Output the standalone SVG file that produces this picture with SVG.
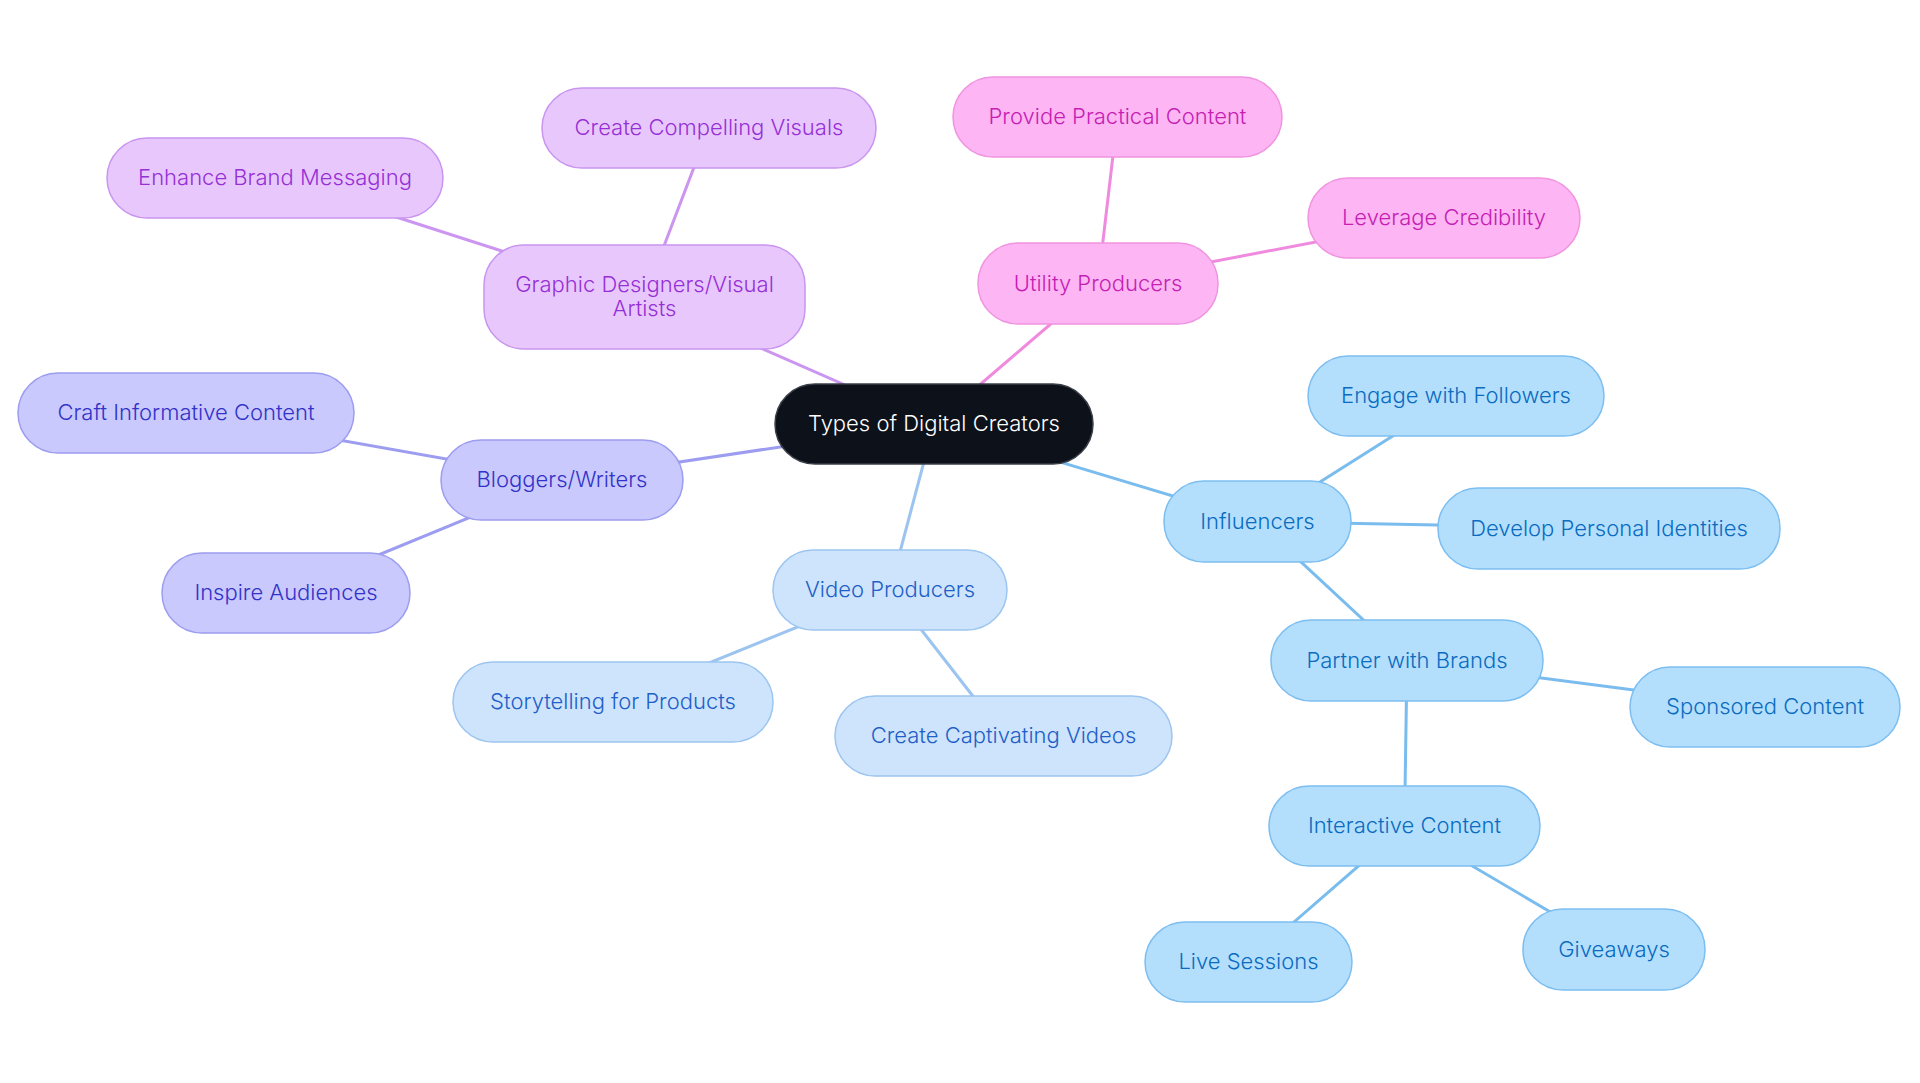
<svg xmlns="http://www.w3.org/2000/svg" width="1920" height="1083" viewBox="0 0 1920 1083">
<style>
text{font-family:Inter,"Noto Sans","Liberation Sans",sans-serif;font-size:22px;font-weight:300;text-anchor:middle}
.e{stroke-width:3;fill:none;stroke-linecap:round}
.ep{stroke:#CB95F0}.ek{stroke:#F08ADF}.ei{stroke:#9C9CF0}.ev{stroke:#9CC4F0}.es{stroke:#7ABCEE}
rect{stroke-width:1.5}
.c rect{fill:#0C111A;stroke:#3A3F48}.c text{fill:#FFFFFF}
.p rect{fill:#E8C8FC;stroke:#C995F0}.p text{fill:#9630D6}
.k rect{fill:#FDB5F4;stroke:#F094E0}.k text{fill:#C41EB3}
.i rect{fill:#C9C9FD;stroke:#9C9CF0}.i text{fill:#3232C8}
.v rect{fill:#CDE4FC;stroke:#9CC5F0}.v text{fill:#1E5FC8}
.s rect{fill:#B3DFFD;stroke:#7DBEF0}.s text{fill:#0A6BBF}
</style>
<rect width="1920" height="1083" fill="#FFFFFF" stroke="none"/>
<g id="connectors">
<line class="e ep" x1="934" y1="424" x2="644.5" y2="297"/>
<line class="e ep" x1="644.5" y1="297" x2="709" y2="128"/>
<line class="e ep" x1="644.5" y1="297" x2="275" y2="178"/>
<line class="e ek" x1="934" y1="424" x2="1098" y2="283.5"/>
<line class="e ek" x1="1098" y1="283.5" x2="1117.5" y2="117"/>
<line class="e ek" x1="1098" y1="283.5" x2="1444" y2="217.5"/>
<line class="e ei" x1="934" y1="424" x2="562" y2="479.5"/>
<line class="e ei" x1="562" y1="479.5" x2="186" y2="413"/>
<line class="e ei" x1="562" y1="479.5" x2="286" y2="593"/>
<line class="e ev" x1="934" y1="424" x2="890" y2="589.5"/>
<line class="e ev" x1="890" y1="589.5" x2="613" y2="702"/>
<line class="e ev" x1="890" y1="589.5" x2="1003.5" y2="735.5"/>
<line class="e es" x1="934" y1="424" x2="1257.5" y2="521.5"/>
<line class="e es" x1="1257.5" y1="521.5" x2="1456" y2="396"/>
<line class="e es" x1="1257.5" y1="521.5" x2="1609" y2="528.5"/>
<line class="e es" x1="1257.5" y1="521.5" x2="1407" y2="660.5"/>
<line class="e es" x1="1407" y1="660.5" x2="1765" y2="707"/>
<line class="e es" x1="1407" y1="660.5" x2="1404.5" y2="826"/>
<line class="e es" x1="1404.5" y1="826" x2="1248" y2="962"/>
<line class="e es" x1="1404.5" y1="826" x2="1614" y2="949.5"/>
</g>
<g id="n-center" class="c"><rect x="775" y="384" width="318" height="80" rx="40"/><text x="934" y="431">Types of Digital Creators</text></g>
<g id="n-graphic" class="p"><rect x="484" y="245" width="321" height="104" rx="40"/><text x="644.5" y="292">Graphic Designers/Visual</text><text x="644.5" y="316">Artists</text></g>
<g id="n-compelling" class="p"><rect x="542" y="88" width="334" height="80" rx="40"/><text x="709" y="135">Create Compelling Visuals</text></g>
<g id="n-enhance" class="p"><rect x="107" y="138" width="336" height="80" rx="40"/><text x="275" y="185">Enhance Brand Messaging</text></g>
<g id="n-utility" class="k"><rect x="978" y="243" width="240" height="81" rx="40"/><text x="1098" y="290.5">Utility Producers</text></g>
<g id="n-practical" class="k"><rect x="953" y="77" width="329" height="80" rx="40"/><text x="1117.5" y="124">Provide Practical Content</text></g>
<g id="n-leverage" class="k"><rect x="1308" y="178" width="272" height="80" rx="40"/><text x="1444" y="225">Leverage Credibility</text></g>
<g id="n-bloggers" class="i"><rect x="441" y="440" width="242" height="80" rx="40"/><text x="562" y="487">Bloggers/Writers</text></g>
<g id="n-craft" class="i"><rect x="18" y="373" width="336" height="80" rx="40"/><text x="186" y="420">Craft Informative Content</text></g>
<g id="n-inspire" class="i"><rect x="162" y="553" width="248" height="80" rx="40"/><text x="286" y="600">Inspire Audiences</text></g>
<g id="n-video" class="v"><rect x="773" y="550" width="234" height="80" rx="40"/><text x="890" y="597">Video Producers</text></g>
<g id="n-story" class="v"><rect x="453" y="662" width="320" height="80" rx="40"/><text x="613" y="709">Storytelling for Products</text></g>
<g id="n-captivating" class="v"><rect x="835" y="696" width="337" height="80" rx="40"/><text x="1003.5" y="743">Create Captivating Videos</text></g>
<g id="n-influencers" class="s"><rect x="1164" y="481" width="187" height="81" rx="40"/><text x="1257.5" y="528.5">Influencers</text></g>
<g id="n-engage" class="s"><rect x="1308" y="356" width="296" height="80" rx="40"/><text x="1456" y="403">Engage with Followers</text></g>
<g id="n-develop" class="s"><rect x="1438" y="488" width="342" height="81" rx="40"/><text x="1609" y="535.5">Develop Personal Identities</text></g>
<g id="n-partner" class="s"><rect x="1271" y="620" width="272" height="81" rx="40"/><text x="1407" y="667.5">Partner with Brands</text></g>
<g id="n-sponsored" class="s"><rect x="1630" y="667" width="270" height="80" rx="40"/><text x="1765" y="714">Sponsored Content</text></g>
<g id="n-interactive" class="s"><rect x="1269" y="786" width="271" height="80" rx="40"/><text x="1404.5" y="833">Interactive Content</text></g>
<g id="n-live" class="s"><rect x="1145" y="922" width="207" height="80" rx="40"/><text x="1248.5" y="969">Live Sessions</text></g>
<g id="n-giveaways" class="s"><rect x="1523" y="909" width="182" height="81" rx="40"/><text x="1614" y="956.5">Giveaways</text></g>
</svg>
